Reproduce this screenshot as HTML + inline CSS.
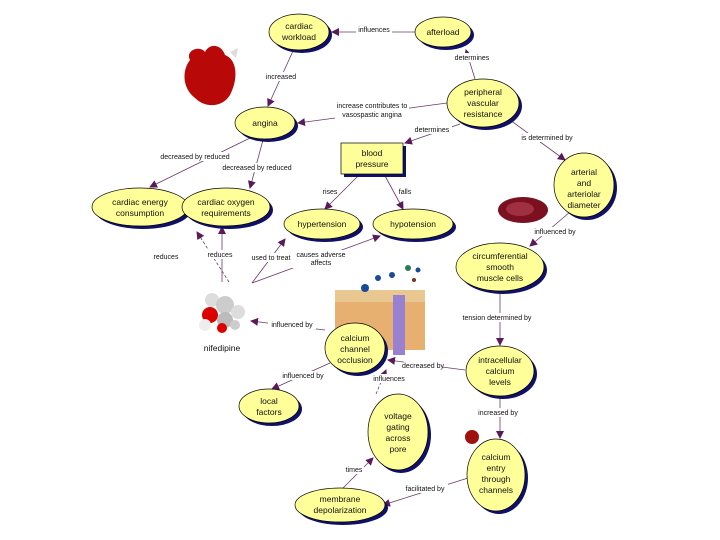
<!DOCTYPE html>
<html><head><meta charset="utf-8"><style>
html,body{margin:0;padding:0;background:#fff;width:720px;height:540px;overflow:hidden}
svg{display:block}
text{font-family:"Liberation Sans",sans-serif;font-size:8.5px;fill:#111;text-anchor:middle}
.l{font-size:7px}
</style></head><body>
<svg width="720" height="540" viewBox="0 0 720 540">
<defs>
<marker id="a" markerWidth="8" markerHeight="8" refX="7" refY="4" orient="auto" markerUnits="userSpaceOnUse"><path d="M0,0 L8,4 L0,8 z" fill="#5a1a5a"/></marker>
</defs>
<g stroke="#6a3a6a" stroke-width="0.8" fill="none" marker-end="url(#a)">
<line x1="415" y1="32" x2="332" y2="32"/>
<line x1="475" y1="79" x2="466" y2="50"/>
<line x1="293" y1="51" x2="268" y2="106"/>
<line x1="447" y1="103" x2="298" y2="123"/>
<line x1="460" y1="124" x2="405" y2="143"/>
<line x1="510" y1="120" x2="565" y2="160"/>
<line x1="250" y1="138" x2="150" y2="187"/>
<line x1="263" y1="140" x2="250" y2="188"/>
<line x1="360" y1="174" x2="325" y2="209"/>
<line x1="384" y1="174" x2="403" y2="209"/>
<line x1="570" y1="212" x2="530" y2="246"/>
<line x1="500" y1="292" x2="500" y2="345"/>
<line x1="500" y1="396" x2="500" y2="438"/>
<line x1="465" y1="370" x2="388" y2="360"/>
<line x1="376" y1="394" x2="386" y2="370" stroke-dasharray="3,2"/>
<line x1="330" y1="363" x2="272" y2="389"/>
<line x1="325" y1="330" x2="251" y2="321"/>
<line x1="468" y1="478" x2="383" y2="505"/>
<line x1="343" y1="488" x2="373" y2="458"/>
<line x1="229" y1="282" x2="197" y2="232" stroke-dasharray="3,2"/>
<line x1="222" y1="282" x2="222" y2="227"/>
<line x1="252" y1="283" x2="285" y2="239"/>
<line x1="252" y1="283" x2="380" y2="236"/>
</g>
<g fill="#fff">
<rect x="356" y="26" width="36" height="9"/><rect x="452" y="53" width="40" height="9"/>
<rect x="265" y="72" width="32" height="9"/><rect x="335" y="101" width="74" height="18"/>
<rect x="412" y="125" width="40" height="9"/><rect x="518" y="133" width="58" height="9"/>
<rect x="158" y="152" width="74" height="9"/><rect x="222" y="163" width="70" height="9"/>
<rect x="322" y="187" width="16" height="9"/><rect x="398" y="187" width="14" height="9"/>
<rect x="535" y="227" width="40" height="9"/><rect x="461" y="313" width="72" height="9"/>
<rect x="404" y="361" width="38" height="9"/><rect x="372" y="374" width="34" height="9"/>
<rect x="282" y="371" width="42" height="9"/><rect x="268" y="320" width="48" height="9"/>
<rect x="476" y="408" width="44" height="9"/><rect x="402" y="484" width="46" height="9"/>
<rect x="344" y="465" width="20" height="9"/><rect x="152" y="252" width="28" height="9"/>
<rect x="206" y="250" width="28" height="9"/><rect x="250" y="253" width="42" height="9"/>
<rect x="292" y="250" width="58" height="18"/>
</g>
<g class="l">
<text x="374" y="32" class="l">influences</text>
<text x="472" y="60" class="l">determines</text>
<text x="281" y="79" class="l">increased</text>
<text x="372" y="108" class="l">increase contributes to</text>
<text x="372" y="117" class="l">vasospastic angina</text>
<text x="432" y="132" class="l">determines</text>
<text x="547" y="140" class="l">is determined by</text>
<text x="195" y="159" class="l">decreased by reduced</text>
<text x="257" y="170" class="l">decreased by reduced</text>
<text x="330" y="194" class="l">rises</text>
<text x="405" y="194" class="l">falls</text>
<text x="555" y="234" class="l">influenced by</text>
<text x="497" y="320" class="l">tension determined by</text>
<text x="423" y="368" class="l">decreased by</text>
<text x="389" y="381" class="l">influences</text>
<text x="303" y="378" class="l">influenced by</text>
<text x="292" y="327" class="l">influenced by</text>
<text x="498" y="415" class="l">increased by</text>
<text x="425" y="491" class="l">facilitated by</text>
<text x="354" y="472" class="l">times</text>
<text x="166" y="259" class="l">reduces</text>
<text x="220" y="257" class="l">reduces</text>
<text x="271" y="260" class="l">used to treat</text>
<text x="321" y="257" class="l">causes adverse</text>
<text x="321" y="265" class="l">affects</text>
</g>
<path d="M190,60 C185,50 200,45 205,52 C210,42 222,45 225,55 C238,60 238,80 230,95 C222,108 205,108 195,98 C182,88 182,70 190,60z" fill="#b80808"/>
<path d="M230,52 l8,-4 l-2,10z" fill="#ddd"/>
<ellipse cx="523" cy="210" rx="25" ry="13" fill="#7a1020"/>
<ellipse cx="520" cy="209" rx="14" ry="7" fill="#a03040"/>
<g>
<circle cx="212" cy="300" r="7" fill="#ddd"/><circle cx="225" cy="305" r="9" fill="#ccc"/><circle cx="210" cy="315" r="8" fill="#d00"/>
<circle cx="225" cy="320" r="8" fill="#bbb"/><circle cx="238" cy="312" r="7" fill="#ddd"/><circle cx="205" cy="325" r="6" fill="#eee"/>
<circle cx="222" cy="328" r="5" fill="#d00"/><circle cx="235" cy="325" r="5" fill="#ccc"/>
</g>
<text x="222" y="351">nifedipine</text>
<rect x="335" y="290" width="90" height="60" fill="#e8b070"/>
<rect x="335" y="290" width="90" height="12" fill="#e8c890"/>
<rect x="393" y="295" width="12" height="60" fill="#9a80d0"/>
<circle cx="365" cy="288" r="4" fill="#1a4a9a"/><circle cx="378" cy="278" r="3" fill="#1a4a9a"/><circle cx="392" cy="275" r="3" fill="#1a4a9a"/><circle cx="408" cy="268" r="3" fill="#2a7a5a"/><circle cx="418" cy="270" r="2.5" fill="#1a4a9a"/><circle cx="414" cy="280" r="2" fill="#803020"/>
<circle cx="472" cy="437" r="7" fill="#a01010"/>
<g stroke="#000" stroke-width="0.7">
<g fill="#10106a" stroke="none">
<ellipse cx="302" cy="35" rx="30" ry="18"/><ellipse cx="446" cy="35" rx="28" ry="15"/>
<ellipse cx="486" cy="106" rx="36" ry="24"/><ellipse cx="268" cy="126" rx="30" ry="16"/>
<rect x="344" y="146" width="62" height="31"/><ellipse cx="587" cy="188" rx="30" ry="32"/>
<ellipse cx="143" cy="210" rx="48" ry="19"/><ellipse cx="229" cy="210" rx="44" ry="19"/>
<ellipse cx="325" cy="227" rx="38" ry="15"/><ellipse cx="416" cy="227" rx="40" ry="15"/>
<ellipse cx="503" cy="270" rx="44" ry="24"/><ellipse cx="358" cy="351" rx="30" ry="25"/>
<ellipse cx="503" cy="374" rx="34" ry="25"/><ellipse cx="272" cy="409" rx="30" ry="17"/>
<ellipse cx="401" cy="435" rx="30" ry="38"/><ellipse cx="499" cy="478" rx="29" ry="36"/>
<ellipse cx="343" cy="508" rx="45" ry="17"/>
</g>
<g fill="#ffff99">
<ellipse cx="299" cy="32" rx="30" ry="18"/><ellipse cx="443" cy="32" rx="28" ry="15"/>
<ellipse cx="483" cy="103" rx="36" ry="24"/><ellipse cx="265" cy="123" rx="30" ry="16"/>
<rect x="341" y="143" width="62" height="31"/><ellipse cx="584" cy="185" rx="30" ry="32"/>
<ellipse cx="140" cy="207" rx="48" ry="19"/><ellipse cx="226" cy="207" rx="44" ry="19"/>
<ellipse cx="322" cy="224" rx="38" ry="15"/><ellipse cx="413" cy="224" rx="40" ry="15"/>
<ellipse cx="500" cy="267" rx="44" ry="24"/><ellipse cx="355" cy="348" rx="30" ry="25"/>
<ellipse cx="500" cy="371" rx="34" ry="25"/><ellipse cx="269" cy="406" rx="30" ry="17"/>
<ellipse cx="398" cy="432" rx="30" ry="38"/><ellipse cx="496" cy="475" rx="29" ry="36"/>
<ellipse cx="340" cy="505" rx="45" ry="17"/>
</g>
</g>
<text x="299" y="29">cardiac</text><text x="299" y="40">workload</text>
<text x="443" y="35">afterload</text>
<text x="483" y="95">peripheral</text><text x="483" y="106">vascular</text><text x="483" y="117">resistance</text>
<text x="265" y="126">angina</text>
<text x="372" y="156">blood</text><text x="372" y="167">pressure</text>
<text x="584" y="175">arterial</text><text x="584" y="186">and</text><text x="584" y="197">arteriolar</text><text x="584" y="208">diameter</text>
<text x="140" y="205">cardiac energy</text><text x="140" y="216">consumption</text>
<text x="226" y="205">cardiac oxygen</text><text x="226" y="216">requirements</text>
<text x="322" y="227">hypertension</text>
<text x="413" y="227">hypotension</text>
<text x="500" y="259">circumferential</text><text x="500" y="270">smooth</text><text x="500" y="281">muscle cells</text>
<text x="355" y="341">calcium</text><text x="355" y="352">channel</text><text x="355" y="363">occlusion</text>
<text x="500" y="363">intracellular</text><text x="500" y="374">calcium</text><text x="500" y="385">levels</text>
<text x="269" y="404">local</text><text x="269" y="415">factors</text>
<text x="398" y="419">voltage</text><text x="398" y="430">gating</text><text x="398" y="441">across</text><text x="398" y="452">pore</text>
<text x="496" y="460">calcium</text><text x="496" y="471">entry</text><text x="496" y="482">through</text><text x="496" y="493">channels</text>
<text x="340" y="502">membrane</text><text x="340" y="513">depolarization</text>
</svg>
</body></html>
